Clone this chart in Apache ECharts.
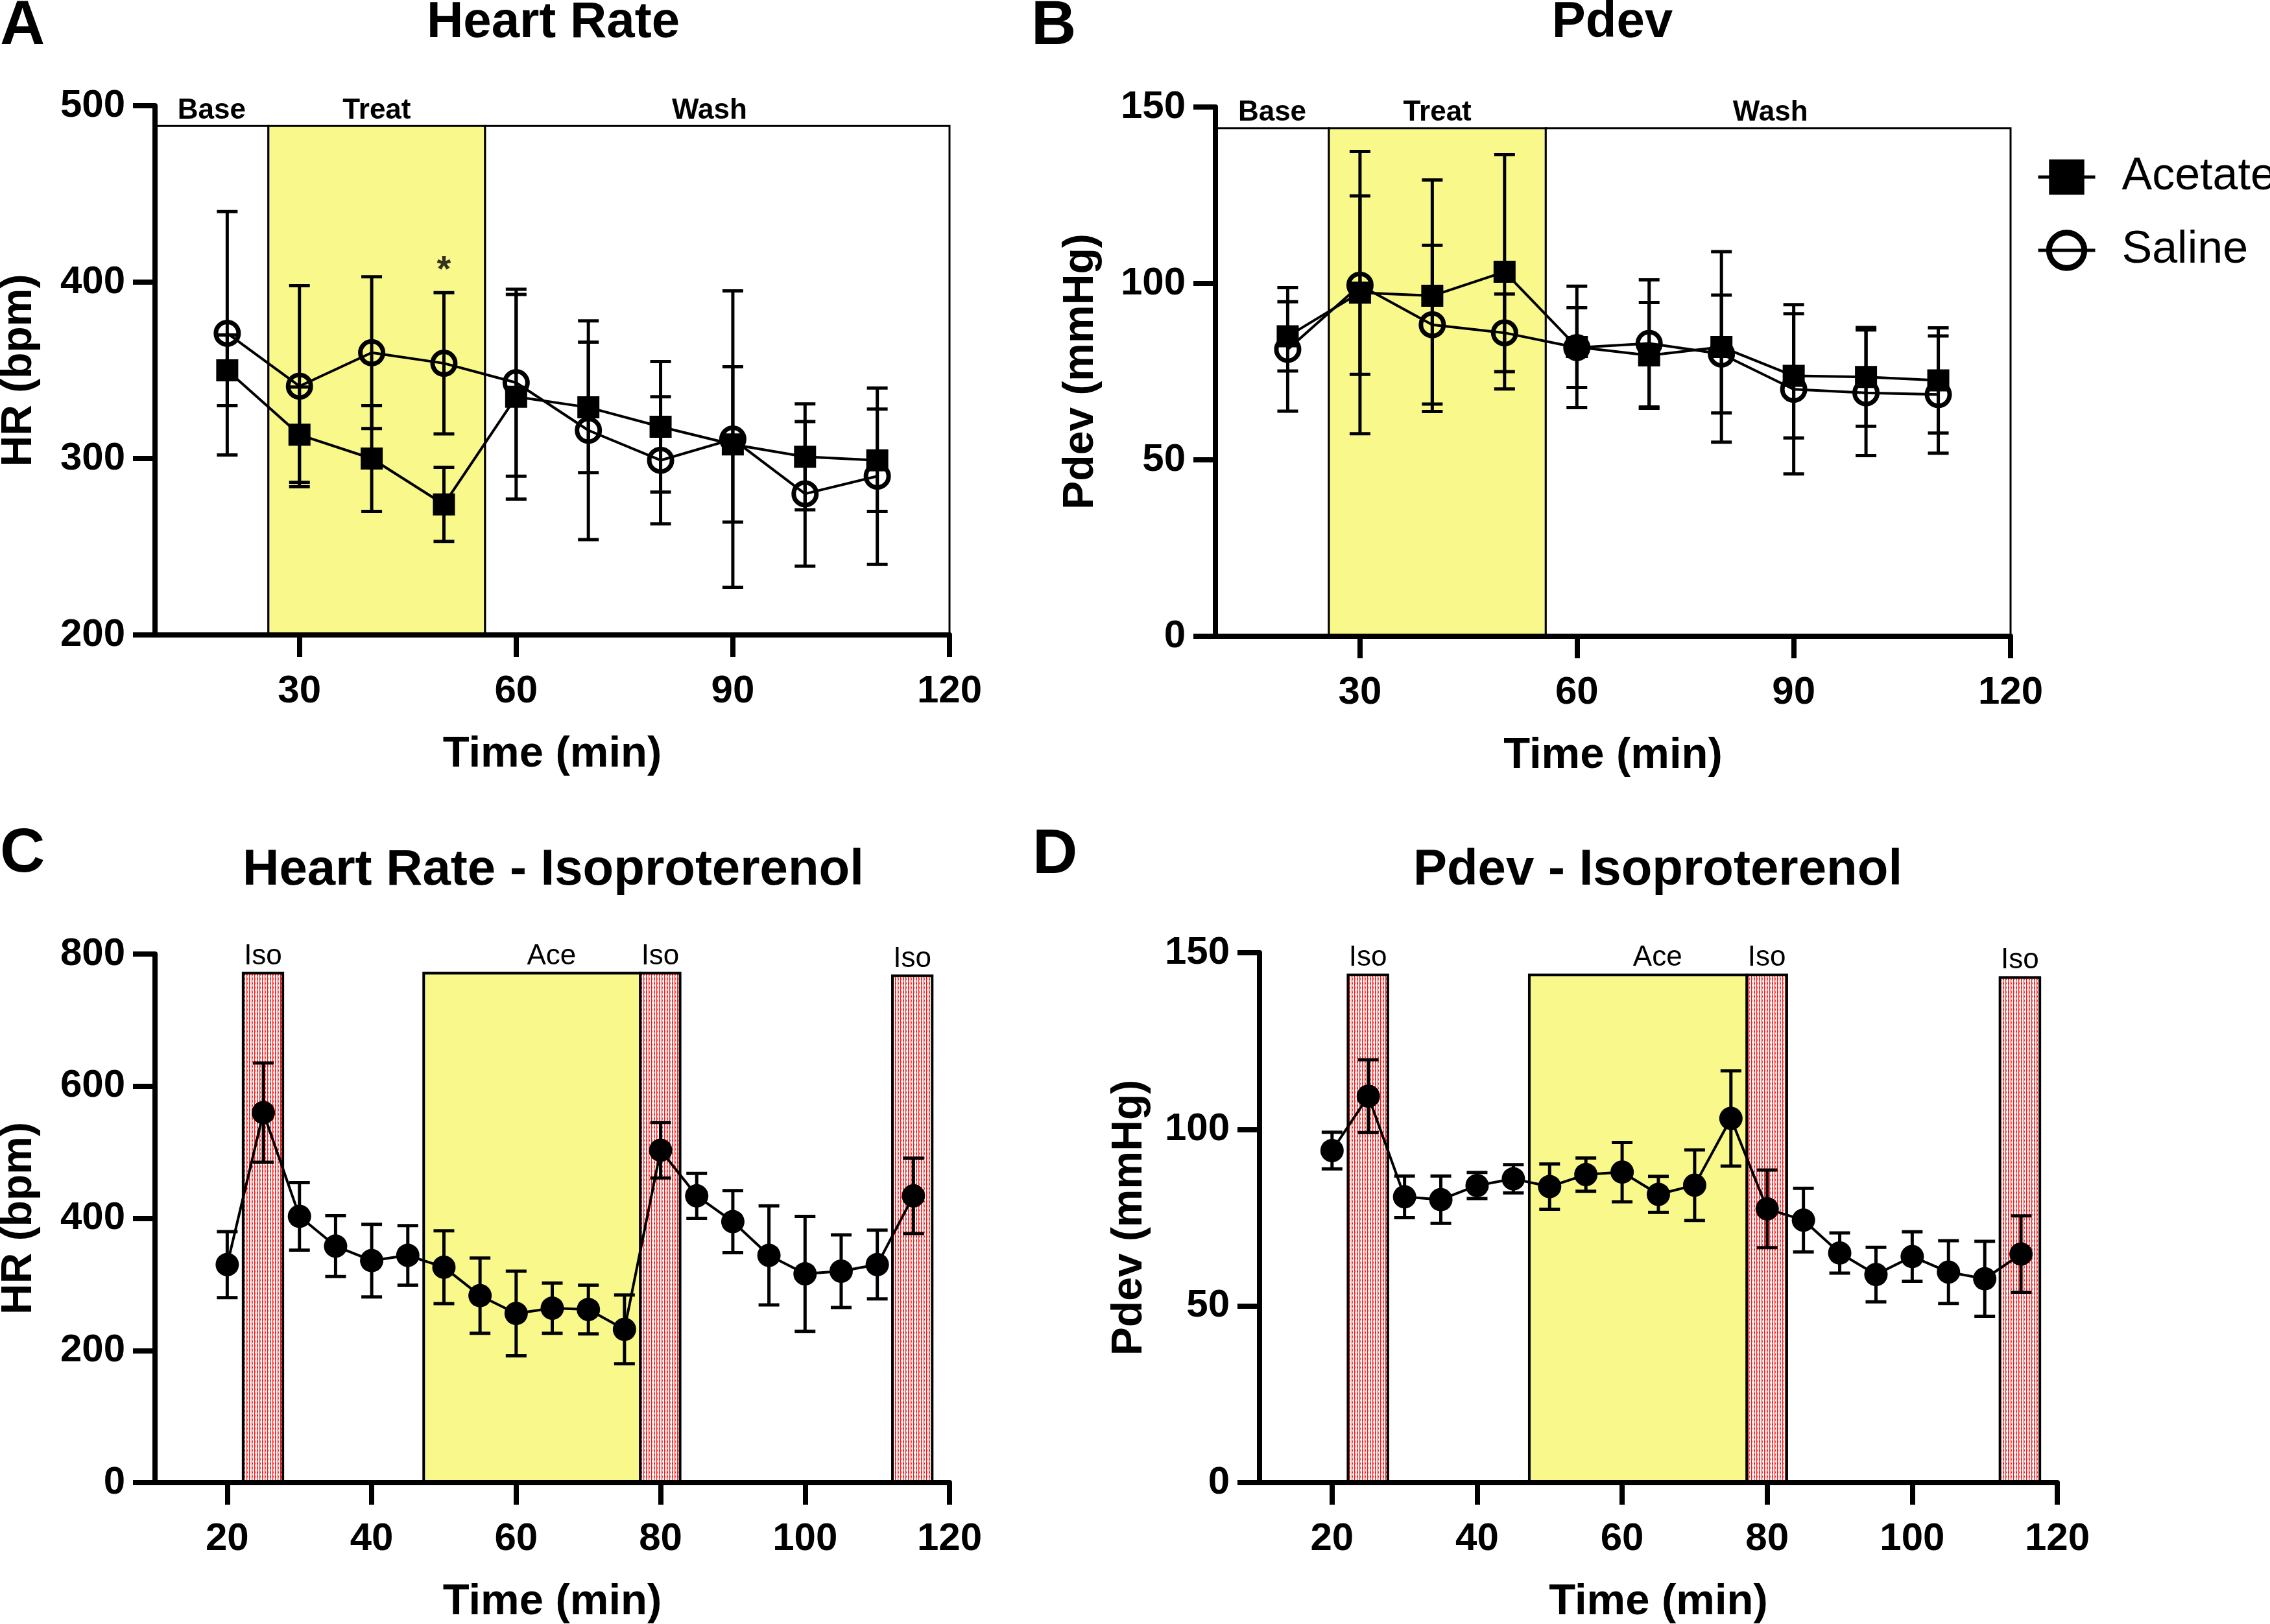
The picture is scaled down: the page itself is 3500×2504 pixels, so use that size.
<!DOCTYPE html>
<html><head><meta charset="utf-8">
<script src="https://cdn.jsdelivr.net/npm/echarts@6/dist/echarts.min.js"></script>
<style>html,body{margin:0;padding:0;background:#fff}#c{width:3500px;height:2504px}</style>
</head><body><div id="c"></div>
<script>
// ---------- DATA ----------
const timeAB = [20, 30, 40, 50, 60, 70, 80, 90, 100, 110];
const hrAcetate = [350, 313.5, 300, 274, 335, 329, 318, 308, 301, 299];
const hrAcetateSem = [20, 27, 30, 21, 58, 37, 37, 44, 30, 29];
const hrSaline = [371, 341, 360, 354, 343, 316, 299, 311, 280, 290];
const hrSalineSem = [69, 57, 43, 40, 53, 62, 36, 84, 41, 50];
const pdevAcetate = [85, 97.4, 96.5, 103.3, 82, 79.6, 82, 73.8, 73.5, 72.5];
const pdevAcetateSem = [9.8, 40, 32.8, 33.2, 17.2, 15, 27, 17.6, 14, 14.9];
const pdevSaline = [81.3, 99.5, 88.3, 86, 81.8, 83, 80, 70, 69, 68.5];
const pdevSalineSem = [17.5, 25.3, 22.5, 11, 11.3, 18, 16.7, 24, 17.8, 16.6];

const timeIso = [20, 25, 30, 35, 40, 45, 50, 55, 60, 65, 70, 75, 80, 85, 90, 95, 100, 105, 110, 115];
const hrIso = [330, 560, 403, 358, 336, 344, 326, 283, 256, 264, 262, 232, 503, 434, 395, 344, 316, 320, 330, 434];
const hrIsoSem = [50, 75, 51, 46, 55, 45, 55, 57, 64, 38, 37, 52, 42, 34, 47, 75, 87, 55, 52, 57];
const pdevIso = [94, 109.4, 80.9, 80.1, 84.1, 86, 83.8, 87.2, 87.9, 81.6, 84.2, 103.1, 77.5, 74.3, 65, 58.9, 64, 59.6, 57.7, 64.7];
const pdevIsoSem = [5.2, 10.3, 5.9, 6.7, 3.7, 4, 6.4, 4.7, 8.4, 5.1, 10, 13.5, 11, 9, 5.7, 7.7, 7, 8.9, 10.6, 10.8];

const abPhaseNames = ['Base', 'Treat', 'Wash'];
const abPhaseBounds = [10, 25.7, 55.7, 120];
const hrBoxTop = 488.5;
const pdevBoxTop = 144;

const isoPhaseNames = ['Iso', 'Ace', 'Iso', 'Iso'];
const isoPhaseStart = [22.2, 47.2, 77.2, 112.1];
const isoPhaseEnd = [27.7, 77.2, 82.7, 117.6];
const hrIsoBoxTop = [771, 771, 771, 767];
const pdevIsoBoxTop = [143.7, 143.7, 143.7, 143];

const starMarks = [[50, 411]];

const ticksAB = [30, 60, 90, 120];
const ticksIso = [20, 40, 60, 80, 100, 120];

// ---------- STYLE ----------
const FONT = '"Liberation Sans", Arial, Helvetica, sans-serif';
const YELLOW = '#f9f98b';
function isoPattern() {
  const c = document.createElement('canvas');
  c.width = 4; c.height = 4;
  const g = c.getContext('2d');
  g.fillStyle = '#ffffff'; g.fillRect(0, 0, 4, 4);
  g.fillStyle = '#ff1414';
  g.fillRect(0, 0, 2, 1); g.fillRect(0, 2, 2, 1); g.fillRect(0, 1, 1, 1); g.fillRect(0, 3, 1, 1);
  return { image: c, repeat: 'repeat' };
}
const ISO = isoPattern();

const zip = (xs, ys) => xs.map((x, i) => [x, ys[i]]);

function errSeries(ai, xs, mean, sem) {
  return {
    type: 'custom', xAxisIndex: ai, yAxisIndex: ai, z: 3, silent: true,
    data: xs.map((x, i) => [x, mean[i] - sem[i], mean[i] + sem[i]]),
    encode: { x: 0, y: [1, 2] },
    renderItem(params, api) {
      const lo = api.coord([api.value(0), api.value(1)]);
      const hi = api.coord([api.value(0), api.value(2)]);
      const hw = 16;
      const style = { stroke: '#000', lineWidth: 5, fill: null };
      return { type: 'group', children: [
        { type: 'line', shape: { x1: lo[0], y1: lo[1], x2: hi[0], y2: hi[1] }, style },
        { type: 'line', shape: { x1: lo[0] - hw, y1: lo[1], x2: lo[0] + hw, y2: lo[1] }, style },
        { type: 'line', shape: { x1: hi[0] - hw, y1: hi[1], x2: hi[0] + hw, y2: hi[1] }, style }
      ] };
    }
  };
}
function acetateLine(ai, xs, ys) {
  return { type: 'line', name: 'Acetate', xAxisIndex: ai, yAxisIndex: ai, z: 5, data: zip(xs, ys),
    symbol: 'rect', symbolSize: 34, itemStyle: { color: '#000' },
    lineStyle: { color: '#000', width: 4 }, silent: true, clip: false };
}
function salineLine(ai, xs, ys) {
  return { type: 'line', name: 'Saline', xAxisIndex: ai, yAxisIndex: ai, z: 4, data: zip(xs, ys),
    symbol: 'circle', symbolSize: 35, itemStyle: { color: 'rgba(0,0,0,0)', borderColor: '#000', borderWidth: 7 },
    lineStyle: { color: '#000', width: 4 }, silent: true, clip: false };
}
function isoLine(ai, xs, ys) {
  return { type: 'line', xAxisIndex: ai, yAxisIndex: ai, z: 5, data: zip(xs, ys),
    symbol: 'circle', symbolSize: 36, itemStyle: { color: '#000' },
    lineStyle: { color: '#000', width: 4 }, silent: true, clip: false };
}
function abBoxes(ai, ymin, top) {
  return { type: 'line', xAxisIndex: ai, yAxisIndex: ai, z: 1, data: [], silent: true,
    markArea: { silent: true,
      label: { show: true, position: 'top', distance: 0, fontSize: 44, fontWeight: 'bold', color: '#000', fontFamily: FONT },
      itemStyle: { borderColor: '#000', borderWidth: 3 },
      data: abPhaseNames.map((nm, i) => [
        { name: nm, xAxis: abPhaseBounds[i], yAxis: ymin, itemStyle: { color: nm === 'Treat' ? YELLOW : '#fff' },
          label: nm === 'Wash' ? { offset: [-12, 0] } : {} },
        { xAxis: abPhaseBounds[i + 1], yAxis: top }
      ]) } };
}
function isoBoxes(ai, tops) {
  return { type: 'line', xAxisIndex: ai, yAxisIndex: ai, z: 1, data: [], silent: true,
    markArea: { silent: true,
      label: { show: true, position: 'top', distance: 2, fontSize: 44, color: '#000', fontFamily: FONT },
      itemStyle: { borderColor: '#000', borderWidth: 4 },
      data: isoPhaseNames.map((nm, i) => [
        { name: nm, xAxis: isoPhaseStart[i], yAxis: 0, itemStyle: { color: nm === 'Ace' ? YELLOW : ISO },
          label: nm === 'Ace' ? { offset: [30, 0] } : {} },
        { xAxis: isoPhaseEnd[i], yAxis: tops[i] }
      ]) } };
}

function xAxisCfg(gi, ticks, nameGap) {
  return { type: 'value', gridIndex: gi, min: 10, max: 120, z: 10,
    name: 'Time (min)', nameLocation: 'middle', nameGap,
    nameTextStyle: { fontSize: 67, fontWeight: 'bold', color: '#000', fontFamily: FONT },
    axisLine: { onZero: false, lineStyle: { color: '#000', width: 8 } },
    axisTick: { show: true, customValues: ticks, length: 34, lineStyle: { color: '#000', width: 8 } },
    axisLabel: { customValues: ticks, margin: 57, fontSize: 60, fontWeight: 'bold', color: '#000', fontFamily: FONT },
    splitLine: { show: false } };
}
function yAxisCfg(gi, min, max, interval, name, nameGap) {
  return { type: 'value', gridIndex: gi, min, max, interval, z: 10,
    name, nameLocation: 'middle', nameGap,
    nameTextStyle: { fontSize: 66, fontWeight: 'bold', color: '#000', fontFamily: FONT },
    axisLine: { show: true, onZero: false, lineStyle: { color: '#000', width: 8 } },
    axisTick: { show: true, length: 34, lineStyle: { color: '#000', width: 8 } },
    axisLabel: { margin: 46, fontSize: 60, fontWeight: 'bold', color: '#000', fontFamily: FONT },
    splitLine: { show: false } };
}
function txt(x, y, text, size, bold, align) {
  return { type: 'text', x, y, silent: true,
    style: { text, fill: '#000', font: (bold ? 'bold ' : '') + size + 'px ' + FONT, align: align || 'center', verticalAlign: 'middle' } };
}

const chart = echarts.init(document.getElementById('c'), null, { renderer: 'canvas' });
chart.setOption({
  animation: false,
  backgroundColor: '#fff',
  textStyle: { fontFamily: FONT },
  grid: [
    { left: 239, top: 163, width: 1225, height: 816, outerBoundsMode: 'none' },
    { left: 1874, top: 165, width: 1226, height: 816, outerBoundsMode: 'none' },
    { left: 239, top: 1471, width: 1225, height: 815, outerBoundsMode: 'none' },
    { left: 1942, top: 1469, width: 1230, height: 817, outerBoundsMode: 'none' }
  ],
  xAxis: [
    xAxisCfg(0, ticksAB, 151), xAxisCfg(1, ticksAB, 151),
    xAxisCfg(2, ticksIso, 151), xAxisCfg(3, ticksIso, 151)
  ],
  yAxis: [
    yAxisCfg(0, 200, 500, 100, 'HR (bpm)', 176),
    yAxisCfg(1, 0, 150, 50, 'Pdev (mmHg)', 174),
    yAxisCfg(2, 0, 800, 200, 'HR (bpm)', 176),
    yAxisCfg(3, 0, 150, 50, 'Pdev (mmHg)', 167)
  ],
  legend: {
    data: [
      { name: 'Acetate', itemStyle: { color: '#000', borderWidth: 0 } },
      { name: 'Saline', itemStyle: { color: 'rgba(0,0,0,0)', borderColor: '#000', borderWidth: 9 } }
    ],
    orient: 'vertical', left: 3135, top: 233,
    itemWidth: 88, itemHeight: 68, itemGap: 43, selectedMode: false,
    itemStyle: { borderWidth: 9, borderColor: '#000' },
    lineStyle: { width: 5, color: '#000' },
    textStyle: { fontSize: 70, color: '#000', fontFamily: FONT, padding: [0, 0, 0, 36] }
  },
  graphic: [
    txt(0, 42, 'A', 96, true, 'left'),
    txt(1590, 42, 'B', 96, true, 'left'),
    txt(0, 1318, 'C', 96, true, 'left'),
    txt(1592, 1320, 'D', 96, true, 'left'),
    txt(853, 35, 'Heart Rate', 78, true),
    txt(2486, 35, 'Pdev', 78, true),
    txt(853, 1342, 'Heart Rate - Isoproterenol', 78, true),
    txt(2556, 1342, 'Pdev - Isoproterenol', 78, true)
  ],
  series: [
    abBoxes(0, 200, hrBoxTop),
    errSeries(0, timeAB, hrSaline, hrSalineSem),
    errSeries(0, timeAB, hrAcetate, hrAcetateSem),
    salineLine(0, timeAB, hrSaline),
    acetateLine(0, timeAB, hrAcetate),
    { type: 'scatter', xAxisIndex: 0, yAxisIndex: 0, z: 6, data: starMarks, symbolSize: 1,
      itemStyle: { color: 'rgba(0,0,0,0)' }, silent: true,
      label: { show: true, position: 'inside', formatter: '*', fontSize: 56, fontWeight: 'bold', color: '#000', offset: [0, 12] } },

    abBoxes(1, 0, pdevBoxTop),
    errSeries(1, timeAB, pdevSaline, pdevSalineSem),
    errSeries(1, timeAB, pdevAcetate, pdevAcetateSem),
    salineLine(1, timeAB, pdevSaline),
    acetateLine(1, timeAB, pdevAcetate),

    isoBoxes(2, hrIsoBoxTop),
    errSeries(2, timeIso, hrIso, hrIsoSem),
    isoLine(2, timeIso, hrIso),

    isoBoxes(3, pdevIsoBoxTop),
    errSeries(3, timeIso, pdevIso, pdevIsoSem),
    isoLine(3, timeIso, pdevIso)
  ]
});
</script>
</body></html>
